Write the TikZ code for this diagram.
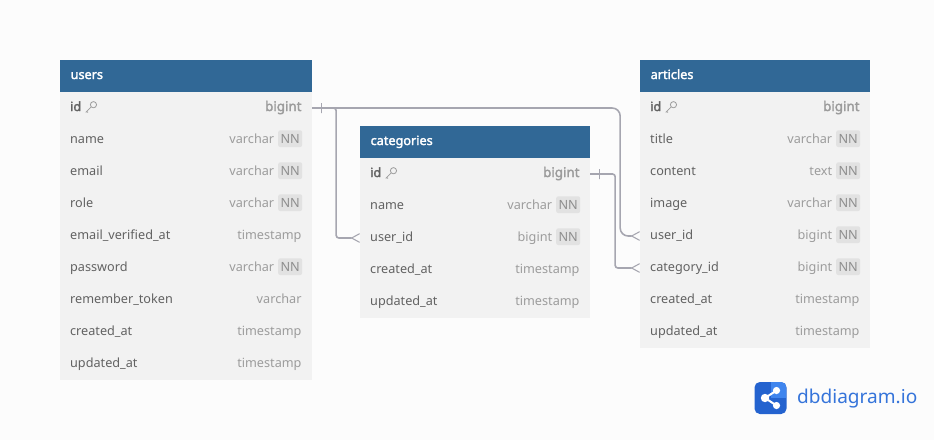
\documentclass[tikz,border=0pt]{standalone}
\usepackage{fontspec}
\setmainfont{Noto Sans}[AutoFakeBold=2.2]
\usetikzlibrary{positioning,arrows.meta,calc}
\definecolor{page}{HTML}{fcfcfc}
\definecolor{head}{HTML}{316896}
\definecolor{rowbg}{HTML}{f2f2f2}
\definecolor{ink}{HTML}{626262}
\definecolor{ink2}{HTML}{9c9c9c}
\definecolor{nnink}{HTML}{8e8e8e}
\definecolor{badge}{HTML}{e2e2e2}
\definecolor{rel}{HTML}{a6a6b0}
\definecolor{brand}{HTML}{3574da}
\definecolor{brand2}{HTML}{2463cf}
\definecolor{brand3}{HTML}{3f85ee}
\tikzset{
  hdr/.style={fill=head,text=white,font=\fontsize{9.5}{12}\selectfont\bfseries,minimum height=24pt,anchor=north west,align=left,text height=7pt,text depth=2.5pt,inner xsep=8pt,inner ysep=0pt,outer sep=0pt},
  row/.style={fill=rowbg,text=ink,font=\fontsize{9.5}{12}\selectfont,minimum height=24pt,align=left,text height=7pt,text depth=2.5pt,inner xsep=7.5pt,inner ysep=0pt,outer sep=0pt},
  wide/.style={text width=174pt},
  slim/.style={text width=157.5pt},
  typ/.style={text=ink2,font=\fontsize{9.5}{12}\selectfont,inner sep=0pt,outer sep=0pt,text height=7pt,text depth=2.5pt},
  pk/.style={typ,font=\fontsize{10}{12}\selectfont\bfseries},
  nn/.style={fill=badge,text=nnink,rounded corners=1.5pt,font=\fontsize{9.5}{12}\selectfont,inner sep=0pt,outer sep=0pt,minimum width=18pt,minimum height=12.5pt,yshift=1pt},
  lnk/.style={draw=rel,line width=1.2pt,rounded corners=2pt},
  many/.style={lnk,-{Straight Barb[reversed,length=6pt,width=6.5pt,line width=.8pt]}},
  onebar/.style={draw=rel,line width=.6pt,minimum height=7.5pt,minimum width=0pt,inner sep=0pt,outer sep=0pt},
  keymark/.pic={
    \draw[ink2,line width=.6pt] (2.3,-2.3) circle[radius=3.1] (.1,-.1) -- (-5,5) -- (-3,5.2);
  },
}
\begin{document}
\begin{tikzpicture}[x=.75pt,y=-.75pt]
\useasboundingbox[fill=page] (0,0) rectangle (934,440);
% users
\node[hdr,wide,text width=173.25pt] (users) at (60,60) {users};
\node[row,wide,below=0pt of users] (u1) {\textbf{id}};
\node[row,wide,below=0pt of u1] (u2) {name};
\node[row,wide,below=0pt of u2] (u3) {email};
\node[row,wide,below=0pt of u3] (u4) {role};
\node[row,wide,below=0pt of u4] (u5) {email\_verified\_at};
\node[row,wide,below=0pt of u5] (u6) {password};
\node[row,wide,below=0pt of u6] (u7) {remember\_token};
\node[row,wide,below=0pt of u7] (u8) {created\_at};
\node[row,wide,below=0pt of u8] (u9) {updated\_at};
\pic at ($(u1.west)+(31,-1)$) {keymark};
\node[pk,left=8pt of u1.east] (ut1) {bigint};
\node[nn,left=7.5pt of u2.east] (un2) {NN};
\node[typ,left=28.5pt of u2.east] (ut2) {varchar};
\node[nn,left=7.5pt of u3.east] (un3) {NN};
\node[typ,left=28.5pt of u3.east] (ut3) {varchar};
\node[nn,left=7.5pt of u4.east] (un4) {NN};
\node[typ,left=28.5pt of u4.east] (ut4) {varchar};
\node[typ,left=8pt of u5.east] (ut5) {timestamp};
\node[nn,left=7.5pt of u6.east] (un6) {NN};
\node[typ,left=28.5pt of u6.east] (ut6) {varchar};
\node[typ,left=8pt of u7.east] (ut7) {varchar};
\node[typ,left=8pt of u8.east] (ut8) {timestamp};
\node[typ,left=8pt of u9.east] (ut9) {timestamp};
% categories
\node[hdr,slim,text width=156.75pt] (cats) at (360,126) {categories};
\node[row,slim,below=0pt of cats] (c1) {\textbf{id}};
\node[row,slim,below=0pt of c1] (c2) {name};
\node[row,slim,below=0pt of c2] (c3) {user\_id};
\node[row,slim,below=0pt of c3] (c4) {created\_at};
\node[row,slim,below=0pt of c4] (c5) {updated\_at};
\pic at ($(c1.west)+(31,-1)$) {keymark};
\node[pk,left=8pt of c1.east] (ct1) {bigint};
\node[nn,left=7.5pt of c2.east] (cn2) {NN};
\node[typ,left=28.5pt of c2.east] (ct2) {varchar};
\node[nn,left=7.5pt of c3.east] (cn3) {NN};
\node[typ,left=28.5pt of c3.east] (ct3) {bigint};
\node[typ,left=8pt of c4.east] (ct4) {timestamp};
\node[typ,left=8pt of c5.east] (ct5) {timestamp};
% articles
\node[hdr,slim,text width=156.75pt] (arts) at (640,60) {articles};
\node[row,slim,below=0pt of arts] (a1) {\textbf{id}};
\node[row,slim,below=0pt of a1] (a2) {title};
\node[row,slim,below=0pt of a2] (a3) {content};
\node[row,slim,below=0pt of a3] (a4) {image};
\node[row,slim,below=0pt of a4] (a5) {user\_id};
\node[row,slim,below=0pt of a5] (a6) {category\_id};
\node[row,slim,below=0pt of a6] (a7) {created\_at};
\node[row,slim,below=0pt of a7] (a8) {updated\_at};
\pic at ($(a1.west)+(31,-1)$) {keymark};
\node[pk,left=8pt of a1.east] (at1) {bigint};
\node[nn,left=7.5pt of a2.east] (an2) {NN};
\node[typ,left=28.5pt of a2.east] (at2) {varchar};
\node[nn,left=7.5pt of a3.east] (an3) {NN};
\node[typ,left=28.5pt of a3.east] (at3) {text};
\node[nn,left=7.5pt of a4.east] (an4) {NN};
\node[typ,left=28.5pt of a4.east] (at4) {varchar};
\node[nn,left=7.5pt of a5.east] (an5) {NN};
\node[typ,left=28.5pt of a5.east] (at5) {bigint};
\node[nn,left=7.5pt of a6.east] (an6) {NN};
\node[typ,left=28.5pt of a6.east] (at6) {bigint};
\node[typ,left=8pt of a7.east] (at7) {timestamp};
\node[typ,left=8pt of a8.east] (at8) {timestamp};
% relations
\draw[many] (u1.east) -- ++(24,0) |- (c3.west);
\draw[many,rounded corners=6pt] (u1.east) -- ++(308,0) |- (a5.west);
\draw[many] (c1.east) -- ++(25,0) |- (a6.west);
\node[onebar] (bar1) at ($(u1.east)+(9,0)$) {};
\node[onebar] (bar2) at ($(c1.east)+(9,0)$) {};
% logo
\node[fill=brand2,rounded corners=4pt,minimum size=24pt,inner sep=0pt,outer sep=0pt] (logo) at (770.5,398) {};
\begin{scope}
\clip[rounded corners=4pt] (logo.south west) rectangle (logo.north east);
\fill[brand3] (logo.north) -- (logo.north east) -- (logo.east) -- (logo.center) -- cycle;
\end{scope}
\coordinate (hubL) at ($(logo.center)+(-5.5,0)$);
\coordinate (hubA) at ($(logo.center)+(6,-7.5)$);
\coordinate (hubB) at ($(logo.center)+(6,7.5)$);
\draw[white,line width=1.5pt] (hubA) -- (hubL) -- (hubB);
\fill[white] (hubL) circle[radius=4.2] (hubA) circle[radius=3.6] (hubB) circle[radius=3.6];
\node[text=brand,font=\fontsize{14.3}{18}\selectfont,inner sep=0pt,outer sep=0pt,right=8pt of logo,yshift=-.75pt] (brandname) {dbdiagram.io};
\end{tikzpicture}
\end{document}
